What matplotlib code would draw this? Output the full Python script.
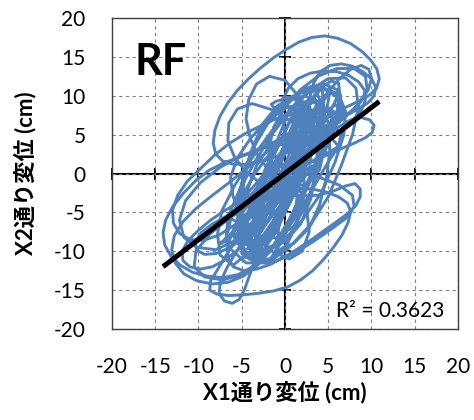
import numpy as np
import matplotlib
matplotlib.use("Agg")
import matplotlib.pyplot as plt

# orbit of the roof floor (X1, X2 displacement in cm) in pieces
orbit_start = [
    (-3, -9), (-1.5, -7), (0, -4), (1.5, -0.5), (3, 3), (4, 6), (4.2, 8.5), (3.3, 9.8),
    (2, 9), (0.5, 6.5), (-1, 3), (-2.5, -0.5), (-3.8, -4), (-4.5, -7), (-4.2, -9.2),
    (-2.5, -9.8), (-1, -7.5), (0.3, -4.2), (1.6, -0.8), (2.7, 2.8), (3.2, 6.5), (2.8, 8.5),
    (1.6, 8.2), (0.5, 5.2), (-0.8, 1.5), (-2.2, -2), (-3.5, -5.5), (-4, -8), (-3.5, -9.5),
    (-2, -8.5), (-0.5, -6), (1, -2.8), (2.2, 0.5), (3.4, 4), (4, 7.5), (3.5, 9.2),
    (2.2, 8.8), (1, 6), (-0.3, 2.5), (-1.6, -1), (-2.8, -4.5), (-3.6, -7.2), (-3.2, -8.8),
    (-1.5, -7.5), (0, -5), (1.4, -1.8), (2.6, 1.6), (3.3, 4.8), (3, 7), (1.8, 6.8),
    (0.6, 4), (-0.7, 0.8), (-2, -2.5), (-3, -5.5), (-2.8, -7.5), (-1.5, -5), (0, -1.5),
    (1.5, 2.5), (3, 6.5), (4, 9.5), (3.5, 11), (2, 10.4), (0.3, 9.7), (-1, 9.3),
    (-1.6, 8.9), (-1.3, 8.5), (0.2, 8.5), (1.8, 7.8), (3, 6.8),
]
orbit_top = [
    (4, 6.5), (5.5, 7.6), (7, 8.5), (8.5, 9.3), (9.8, 10.1), (10.6, 11), (10.9, 12.2),
    (10.6, 13.5), (9.9, 14.6), (8.9, 15.7), (7.6, 16.7), (6.1, 17.4), (4.6, 17.7),
    (3.1, 17.5), (1.6, 16.9), (0.2, 16), (-1.3, 14.9), (-2.8, 13.6), (-4.2, 12.2),
    (-5.5, 10.7), (-6.6, 9.1), (-7.5, 7.4), (-8.1, 5.6), (-8.3, 3.9), (-8, 2.5),
    (-7.2, 1.6), (-6, 1.2), (-4.5, 1.2), (-3, 1.5), (-1.5, 2), (0, 2.6), (1.5, 3.3),
    (3, 4.5), (5, 5.8), (6.5, 6.8), (6.8, 7.6), (5.5, 8), (3.5, 8.1), (1.5, 7.9),
    (-0.5, 7.3), (-2.5, 6.3), (-4.5, 5.2), (-6.4, 3.9), (-8.2, 2.3), (-9.8, 0.6),
    (-11.3, -1), (-12.4, -2.8), (-13, -4.7), (-12.9, -6.4), (-12.2, -7.7), (-11, -8.5),
    (-9.4, -8.6), (-7.6, -7.9), (-5.8, -6.6), (-4, -5), (-2.3, -3.2), (-0.6, -1.2),
    (1, 0.9), (2.6, 3), (3.9, 5), (4.6, 6.8), (4.2, 8), (3, 7.5), (1.8, 5.5),
    (0.5, 2.5), (-0.8, -0.8), (-2, -4), (-3, -7), (-3.2, -8.8),
]
orbit_core = [
    (-3.2, -10), (-1.8, -8.2), (-0.3, -5), (1.2, -1.5), (2.5, 2), (3.6, 5.5), (4.5, 8.5),
    (4.3, 10.8), (3, 11.2), (1.5, 9), (0, 5.5), (-1.5, 2), (-3, -1.5), (-4.2, -5),
    (-5, -8.5), (-4.6, -10.8), (-3, -11), (-1, -9), (0.5, -6), (2, -2.5), (3.5, 1),
    (5, 4.5), (6, 7.5), (6.2, 9.8), (5, 10.5), (3.5, 8.5), (2, 5), (0.5, 1.5), (-1, -2),
    (-2.5, -5.5), (-3.5, -8.5), (-3.6, -10.5), (-4, -10.5), (-2.5, -8.5), (-1, -5.5),
    (0.5, -2), (2, 1.5), (3.5, 5), (4.8, 8.2), (5.2, 10.5), (4.2, 11), (2.8, 8.8),
    (1.2, 5.5), (-0.3, 2), (-1.8, -1.5), (-3.3, -5), (-4.5, -8.2), (-5, -10.3),
    (-2, -11.5), (-0.5, -9), (1, -5.5), (2.5, -2), (4, 1.5), (5.5, 5), (6.5, 8),
    (6.4, 10.2), (5, 10.3), (3.5, 7.5), (2, 4), (0.3, 0.5), (-1.2, -3), (-2.6, -6.5),
    (-3.4, -9.5), (-2.9, -11.5), (-4.5, -9), (-3, -7), (-1.5, -4), (0, -0.8), (1.3, 2.5),
    (2.5, 6), (2.7, 8.8), (1.6, 9.6), (0.3, 7.5), (-1, 4), (-2.3, 0.5), (-3.6, -3),
    (-4.8, -6.5), (-5.3, -8.8), (-5.5, -6), (-3.5, -4.5), (-1, -2), (1.5, 1), (4, 4),
    (6, 6.5), (6.8, 8.2), (5.8, 8.8), (3.8, 7.3), (1.2, 4.5), (-1.2, 1.5), (-3.5, -1.5),
    (-5.5, -4), (-6.3, -5.8), (-5, -6.5), (-2.5, -4.5), (0, -1.5), (2.5, 1.2), (4.8, 2.6),
    (4, 4.5), (2.5, 4.5), (0.8, 3.5),
]
orbit_wide = [
    (-1, 2), (1.5, 4), (4, 5.5), (6.5, 7), (8.5, 8.8), (9.5, 10.8), (9.3, 12.5), (8, 13.5),
    (6, 13.5), (3.8, 12.5), (1.8, 10.8), (0, 8.5), (-1.3, 6), (-1.8, 3.5), (-1.5, 1),
    (1, -1), (-1.5, -2.5), (-4, -4), (-6.5, -5.8), (-8.7, -7.8), (-10.3, -10), (-10.5, -12),
    (-9.3, -13.3), (-7.2, -13.7), (-5, -13), (-3, -11.5), (-1.2, -9.3), (0.3, -6.8),
    (1.3, -4), (1.5, -1.5), (2, 3.5), (0, 3.8), (-2.5, 3.3), (-5, 2.3), (-7.5, 0.8),
    (-9.8, -1.2), (-11.5, -3.5), (-12.2, -6), (-11.7, -8.2), (-10.2, -9.5), (-8, -9.8),
    (-5.5, -8.5), (-3.2, -6.5), (-1, -4), (1, -1.2), (2.5, 1.5), (4, 4), (3, 7),
    (1.5, 10), (0, 12), (-1.8, 12.5), (-3.3, 11.5), (-4.2, 9.5), (-4.5, 7), (-4, 4.5),
    (-3, 2), (-1.5, 0), (0.5, -1.5), (2.5, -1.5), (4, 0.5), (4.5, 3), (3, 5), (1, 6.5),
    (-1.5, 8.2), (-3.8, 9), (-5.5, 8.3), (-6.5, 6.5), (-6.6, 4.2), (-5.8, 2), (-4.3, 0),
    (-2.5, -1.5), (-0.5, -2), (1.5, -0.5), (3, 2), (-1, 1), (1.5, 0.2), (4, -0.5),
    (6.3, -1.5), (7.8, -2.8), (8, -4.3), (7, -5.8), (5.3, -7.2), (3.2, -8.8), (1, -10.3),
    (-1.2, -11.3), (-3.3, -11.5), (-4.8, -10.5), (-5.2, -8.5), (-4.6, -6), (-3.3, -3.5),
    (-1.8, -1), (-3.5, -4.5), (-5.5, -7), (-7, -8.8), (-7.5, -9), (-6, -7.5), (-4, -5.5),
    (-1.5, -2.5), (1, 0.5), (3.5, 3.5), (5.5, 6.5), (6.5, 9), (6, 10.8), (4.5, 11.5),
    (2.5, 11), (0.3, 9.3), (-2, 7), (-4, 4.5), (-5.5, 2), (-6.3, -0.5), (-6, -3),
    (-5, -5.5), (-3.5, -8), (-1.5, -10), (0.5, -11), (2, -10), (2.8, -7.5), (2.5, -4.5),
    (1.5, -1.5), (-0.5, -4), (-2.5, -7), (-4, -9.5), (-5, -10), (-3, -10.5), (-0.5, -9),
    (2, -6), (4.2, -2.5), (5.8, 1.5), (6.8, 5), (7, 8), (6.2, 10.2), (4.5, 11), (2.5, 10.3),
    (0.5, 8), (-1.5, 5), (-3.5, 1.5), (-5.3, -2.2), (-6.6, -5.6), (-6.8, -8.3),
    (-6.5, -9.5), (-4.5, -11.5), (-2, -11.5), (0.5, -9.5), (3, -6.5), (5, -3), (6.5, 1),
    (7.8, 5), (8.5, 8.5), (8.2, 11), (7, 12.3), (5, 12.2), (3, 10.8), (0.8, 8.5),
    (-1.5, 5.5), (-3.8, 2), (-5.8, -1.5), (-7.3, -4.8), (-7.8, -7.8), (-7.5, -10.5),
    (-6, -11.8), (-3.5, -9.5), (-1, -5.5), (1.5, -1.5), (4, 2), (5.5, 3),
]
orbit_left = [
    (6.2, 3.5), (5, 5), (3, 5.5), (1, 5), (-1, 4.2), (-3, 3.1), (-5, 2.2), (-7, 1.4),
    (-8.8, 0.4), (-10.4, -1), (-11.8, -2.6), (-13, -4.3), (-13.8, -6), (-14.1, -7.6),
    (-13.9, -9.2), (-13.2, -10.6), (-12.1, -11.8), (-10.7, -12.7), (-9, -13.2),
    (-7.2, -13.4), (-5.4, -13), (-3.6, -11.9), (-2, -10.3), (-0.5, -8.3), (1, -6),
    (2.4, -3.5), (3.7, -1), (5, 1.5), (6.2, 3.5), (6.5, 5.2), (5.2, 6.2), (3, 6),
    (1.5, 5.3), (-0.5, 4), (-2.5, 2.4), (-4.5, 0.6), (-6.5, -1.2), (-8.5, -2.9),
    (-10.3, -4.5), (-11.8, -6.2), (-12.8, -8), (-13.1, -9.8), (-12.7, -11.5),
    (-11.7, -12.9), (-10.2, -13.8), (-8.4, -14.2), (-6.6, -14), (-4.8, -13.2),
    (-3.2, -11.8), (-1.8, -10), (-0.5, -7.8), (0.8, -5.3), (2, -2.6), (3.1, 0), (3, 1),
]
orbit_bottom = [
    (1.6, -0.4), (0.1, -2), (-1.4, -3.8), (-2.9, -5.8), (-4.3, -7.9), (-5.6, -10),
    (-6.7, -12.1), (-7.5, -14), (-7.6, -15.5), (-7, -16.4), (-6.1, -16.7), (-5.3, -16.2),
    (-4.7, -15), (-4.2, -13.4), (-3.6, -11.6), (-2.8, -9.6), (-1.9, -7.4), (-0.9, -5.1),
    (0.2, -2.8), (1.3, -0.4), (2.4, 2), (3.5, 4.4), (4.6, 6.7), (5.6, 8.8), (6.3, 10.5),
    (6.2, 11.6), (5.4, 11.9), (4.3, 11.2), (3.2, 9.8), (2.1, 7.9), (1, 5.7), (-0.2, 3.3),
    (-1.4, 0.8), (-2.6, -1.8), (-3.8, -4.4), (-5, -7), (-6.3, -9.6), (-7.6, -12),
    (-8.6, -13.8), (-8.7, -15), (-7.9, -15.5), (-6.5, -15.7), (-4.8, -15.6), (-3, -15.4),
    (-1.3, -15.1), (0.3, -14.6), (1.8, -13.7), (3.2, -12.5), (4.5, -11), (5.6, -9.5),
    (6.6, -7.9), (7.3, -6.3), (7.6, -4.9), (7.2, -3.8), (6.2, -3), (4.8, -2.4),
    (3.2, -2), (1.5, -1.9), (0, -2.5), (1.8, -2.9), (3.7, -2.8), (5.5, -2.3), (7, -1.6),
    (8.1, -1.3), (8.7, -2), (8.7, -3), (8.2, -4.1), (7.3, -5.1), (6.1, -6.1), (4.7, -7.2),
    (3.2, -8.4), (1.6, -9.6), (0, -10.7), (-1.7, -11.7), (-3.3, -12.3), (-4.8, -12.5),
    (-6, -12), (-6.6, -10.8), (-6.6, -9.2), (-6, -7.3), (-5.1, -5.4), (-4, -3.5),
    (-2.8, -1.6), (-1.5, 0.4),
]
orbit_right = [
    (-0.2, 2.4), (1.1, 4.5), (2.4, 6.6), (3.7, 8.6), (5, 10.5), (6.3, 12.2), (7.6, 13.4),
    (8.8, 13.9), (9.7, 13.4), (10, 12.2), (9.6, 10.7), (8.7, 9.2), (7.5, 7.8), (6.1, 6.5),
    (4.6, 5.1), (3.1, 3.6), (1.6, 2.1), (0.2, 0.7), (0.5, 0), (1.8, 0.8), (3.3, 1.6),
    (4.9, 2.4), (6.5, 3.2), (8, 3.9), (9.3, 4.6), (10.1, 5.3), (10.3, 6.2), (9.8, 6.9),
    (8.8, 7.2), (7.6, 6.9), (6.2, 6), (4.8, 4.8), (3.3, 3.4), (1.8, 1.9), (0.4, 0.3),
    (-1, -1.5), (-2.2, -3.5), (-1.1, -2.1), (-0.1, 0), (0.8, 2.2), (1.6, 4.6), (2.3, 7.1),
    (2.8, 9.5), (3.3, 11.6), (4.1, 13.1), (5.2, 13.9), (6.5, 14.1), (7.8, 13.8), (9, 13.1),
    (10, 12.2), (10.5, 11.1), (10.3, 10), (9.6, 9.1), (8.5, 8.3), (7.1, 7.5), (5.6, 6.6),
    (4.1, 5.4), (2.7, 3.9), (1.5, 2.4), (0.6, 3.8), (0, 5.5), (-0.4, 7.4), (-0.3, 9.4),
    (0.4, 11), (1.5, 12.2), (2.9, 12.9), (4.5, 13.2), (6, 13.1), (7.4, 12.6), (8.5, 11.8),
    (9.2, 10.7), (9.3, 9.5), (8.9, 8.3), (8, 7.1), (6.8, 5.9), (5.4, 4.6), (3.9, 3.2),
    (2.4, 1.8), (1, 0.4), (-0.3, -1),
]
orbit_end = [
    (-1, -1), (-2.3, -1.7), (-3.8, -2.6), (-5.4, -3.7), (-7, -4.8), (-8.6, -6),
    (-10, -7.3), (-11.2, -8.6), (-11.9, -10), (-11.8, -11.2), (-11, -12), (-9.8, -12.3),
    (-8.4, -12), (-6.9, -11.1), (-5.5, -9.9), (-4.2, -8.3), (-3, -6.5), (-1.9, -4.6),
    (-0.8, -2.7), (0.3, -0.7), (1.3, 1.3), (2.2, 3.3), (2.5, 4.8), (1.9, 5.3), (0.9, 4.6),
    (-0.2, 3.1), (-1.3, 1.3), (-2.5, -0.7), (-3.8, -2.6), (-5.2, -4.2), (-6.8, -5.5),
    (-8.4, -6.5), (-9.7, -7.6), (-10.4, -8.8), (-10.2, -9.9), (-9.3, -10.4), (-8, -10.3),
    (-6.5, -9.6), (-5, -8.5), (-3.6, -7), (-2.3, -5.2), (-1.1, -3.2), (0, -1.2),
    (0.8, 0.5), (0.5, 1.2), (-0.2, 0.3), (-0.5, -4), (-0.8, -8),
]
orbit_broad = [
    (-1, -10), (1, -9), (2.8, -7), (4, -4), (4.8, -0.5), (5.2, 3), (5, 6.5), (4, 9),
    (2.3, 10), (0.5, 9.5), (-1.5, 7.5), (-3.2, 4.5), (-4.5, 1), (-5.3, -2.5), (-5.5, -6),
    (-4.5, -9), (-2.8, -10.3), (-2, -9.5), (0, -8.8), (1.8, -6.5), (3, -3.2), (3.6, 0.5),
    (3.8, 4), (3.2, 7.2), (1.8, 8.8), (0, 8.5), (-1.8, 6.8), (-3.4, 3.8), (-4.6, 0.2),
    (-5, -3.5), (-4.8, -6.8), (-3.8, -9), (-3, -8), (-1, -8.3), (1, -6.8), (2.5, -4),
    (3.5, -0.5), (4, 3.2), (3.8, 6.5), (2.7, 8.8), (1, 9.6), (-0.8, 8.8), (-2.5, 6.5),
    (-3.8, 3.2), (-4.8, -0.5), (-5.4, -4), (-5.2, -7), (-4.2, -8.3), (-3.5, -11),
    (-1.5, -11), (0.3, -9), (1.5, -6), (2.2, -2.5), (2.2, 1), (1.5, 3.5), (0, 4.5),
    (-1.8, 3.5), (-3.3, 1), (-4.3, -2), (-5, -5.5), (-5.2, -8.5), (-4.5, -10.5), (-6, -8),
    (-4.5, -7), (-2.5, -5), (-0.5, -2.5), (1.5, 0.5), (3.5, 3), (5, 5.5), (5.5, 7.5),
    (4.5, 8.2), (2.5, 7), (0.3, 5), (-1.8, 2.5), (-3.6, -0.2), (-5, -3), (-6.2, -5.5),
    (-6.6, -7.5),
]

# trendline
trend_slope = 0.85
trend_intercept = 0.0
r_squared = 0.3623

ticks = [-20, -15, -10, -5, 0, 5, 10, 15, 20]

orbit = (orbit_start + orbit_top + orbit_core + orbit_wide + orbit_left
         + orbit_bottom + orbit_right + orbit_end + orbit_broad)
x1 = np.array([p[0] for p in orbit])
x2 = np.array([p[1] for p in orbit])

plt.rcParams["font.family"] = ["Lato", "Noto Sans CJK JP", "DejaVu Sans"]
plt.rcParams["axes.unicode_minus"] = False

fig = plt.figure(figsize=(4.74, 4.2), dpi=100)
ax = fig.add_axes([0.2363, 0.2167, 0.7299, 0.7404])

ax.plot(x1, x2, color="#4F81BD", lw=2.1, solid_joinstyle="round", zorder=2)
tx = np.array([x1.min(), x1.max()])
ax.plot(tx, trend_slope * tx + trend_intercept, color="black", lw=3.6,
        solid_capstyle="butt", zorder=3)

ax.set_xlim(-20, 20)
ax.set_ylim(-20, 20)
ax.set_xticks(ticks)
ax.set_yticks(ticks)
ax.grid(True, color="#808080", lw=0.8, ls=(0, (3, 3)), zorder=0)
ax.tick_params(length=0, labelsize=15)
ax.tick_params(axis="x", pad=20)
ax.tick_params(axis="y", pad=19)
for s in ax.spines.values():
    s.set_linewidth(1.0)
    s.set_color("#404040")

# axes crossing at zero with cross ticks
sx = ax.secondary_xaxis(0.5)
sx.set_xticks(ticks)
sx.tick_params(direction="inout", length=9, width=1.3, labelbottom=False, labeltop=False)
for s in sx.spines.values():
    s.set_linewidth(1.5)
sy = ax.secondary_yaxis(0.5)
sy.set_yticks(ticks)
sy.tick_params(direction="inout", length=9, width=1.3, labelleft=False, labelright=False)
for s in sy.spines.values():
    s.set_linewidth(1.5)

ax.set_xlabel("X1通り変位 (cm)", fontsize=16, fontweight="bold")
ax.set_ylabel("X2通り変位 (cm)", fontsize=16, fontweight="bold")
ax.xaxis.set_label_coords(0.5, -0.17)
ax.yaxis.set_label_coords(-0.215, 0.5)

ax.text(0.066, 0.817, "RF", transform=ax.transAxes, fontsize=31, fontweight="bold",
        va="baseline", ha="left")
ax.text(0.962, 0.039, "R² = %.4f" % r_squared, transform=ax.transAxes, fontsize=15,
        va="baseline", ha="right")

fig.savefig("out.png", dpi=100)
